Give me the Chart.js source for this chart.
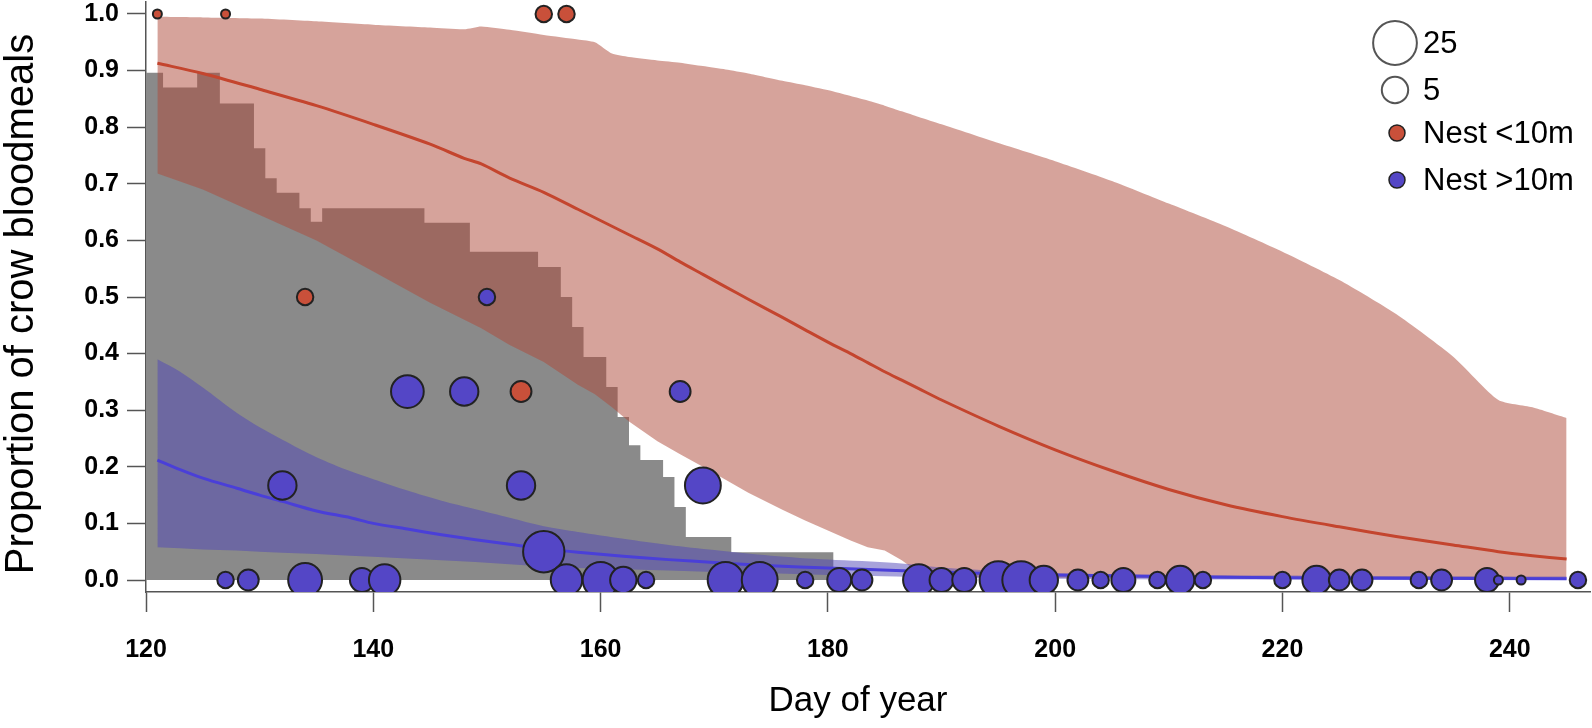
<!DOCTYPE html>
<html>
<head>
<meta charset="utf-8">
<script src="https://cdn.jsdelivr.net/npm/chart.js@4.4.1/dist/chart.umd.min.js"></script>
<style>
  html, body { margin: 0; padding: 0; background: #fff; }
  #wrap { width: 1592px; height: 728px; }
</style>
</head>
<body>
<div id="wrap"><canvas id="crowChart" width="1592" height="728"></canvas></div>
<script>
// axis ticks
var dayTicks = [120, 140, 160, 180, 200, 220, 240];
var propTicks = [0, 0.1, 0.2, 0.3, 0.4, 0.5, 0.6, 0.7, 0.8, 0.9, 1.0];

// grey stepped area (day where each step starts, height of the step)
var stepDays = [120, 121.5, 124.5, 126.5, 129.5, 130.5, 131.5, 133.5, 134.5, 135.5, 144.5, 148.5,
  154.5, 156.5, 157.5, 158.5, 160.5, 161.5, 162.5, 163.5, 165.5, 166.5, 167.5, 171.5, 180.5];
var stepValues = [0.896, 0.87, 0.896, 0.842, 0.763, 0.71, 0.684, 0.657, 0.633, 0.657, 0.631, 0.58,
  0.553, 0.5, 0.447, 0.394, 0.341, 0.288, 0.238, 0.212, 0.182, 0.129, 0.076, 0.049, 0];

// nest < 10m : fitted curve and band
var nearDays = [121, 125, 130, 135, 140, 145, 148, 149.5, 152, 155, 158, 159.5, 161, 162.5, 165, 167,
  169, 171, 173, 176, 178, 180.5, 182, 183.5, 185, 186.5, 188, 190, 195, 200, 205, 210, 215, 220,
  225, 230, 235, 239, 242, 245];
var nearUpper = [0.995, 0.994, 0.992, 0.987, 0.981, 0.976, 0.973, 0.978, 0.972, 0.963, 0.955, 0.95,
  0.93, 0.924, 0.918, 0.914, 0.908, 0.902, 0.895, 0.882, 0.874, 0.863, 0.855, 0.847, 0.838, 0.828, 0.818,
  0.805, 0.772, 0.74, 0.705, 0.665, 0.625, 0.58, 0.53, 0.47, 0.395, 0.318, 0.305, 0.286];
var nearLower = [0.718, 0.69, 0.645, 0.6, 0.545, 0.49, 0.46, 0.445, 0.415, 0.385, 0.345, 0.328,
  0.305, 0.28, 0.245, 0.222, 0.2, 0.177, 0.154, 0.124, 0.105, 0.083, 0.07, 0.058, 0.052, 0.035, 0.013,
  0.006, 0.005, 0.004, 0.004, 0.003, 0.003, 0.003, 0.003, 0.003, 0.003, 0.003, 0.003, 0.003];
var nearFit = [0.913, 0.895, 0.867, 0.838, 0.805, 0.77, 0.745, 0.735, 0.71, 0.685, 0.655, 0.64,
  0.625, 0.61, 0.585, 0.562, 0.54, 0.518, 0.496, 0.464, 0.442, 0.415, 0.4, 0.384, 0.368, 0.353, 0.338,
  0.318, 0.272, 0.23, 0.193, 0.16, 0.133, 0.112, 0.094, 0.077, 0.062, 0.05, 0.043, 0.037];

// nest > 10m : fitted curve and band
var farDays = [121, 123, 125, 128, 130, 132, 135, 138, 140, 143, 146, 149, 152, 155, 158, 162, 166,
  170, 175, 180, 186, 190, 195, 200, 210, 220, 230, 245];
var farUpper = [0.39, 0.368, 0.34, 0.295, 0.27, 0.248, 0.217, 0.192, 0.178, 0.158, 0.14, 0.125, 0.11,
  0.095, 0.085, 0.073, 0.062, 0.053, 0.043, 0.036, 0.03, 0.022, 0.016, 0.012, 0.009, 0.008, 0.007, 0.006];
var farLower = [0.058, 0.056, 0.054, 0.052, 0.05, 0.048, 0.046, 0.043, 0.041, 0.038, 0.035, 0.032,
  0.028, 0.024, 0.021, 0.019, 0.017, 0.014, 0.012, 0.009, 0.006, 0.004, 0.003, 0.002, 0.001, 0.001, 0, 0];
var farFit = [0.212, 0.195, 0.18, 0.162, 0.15, 0.139, 0.122, 0.11, 0.1, 0.09, 0.08, 0.071, 0.063,
  0.055, 0.049, 0.042, 0.036, 0.031, 0.025, 0.021, 0.017, 0.014, 0.011, 0.009, 0.006, 0.004, 0.003, 0.002];

// observed proportions and number of bloodmeals
var nearPtDays = [121, 127, 134, 153, 155, 157];
var nearPtProps = [1, 1, 0.5, 0.333, 1, 1];
var nearPtCounts = [1, 1, 2, 3, 2, 2];

var farPtDays = [127, 129, 132, 134, 139, 141, 143, 148, 150, 153, 155, 157, 160, 162, 164, 167, 169,
  171, 174, 178, 181, 183, 188, 190, 192, 195, 197, 199, 202, 204, 206, 209, 211, 213, 220, 223, 225,
  227, 232, 234, 238, 239, 241, 246];
var farPtProps = [0, 0, 0.167, 0, 0, 0, 0.333, 0.333, 0.5, 0.167, 0.05, 0, 0, 0, 0, 0.333, 0.167,
  0, 0, 0, 0, 0, 0, 0, 0, 0, 0, 0, 0, 0, 0, 0, 0, 0, 0, 0, 0, 0, 0, 0, 0, 0, 0, 0];
var farPtCounts = [2, 3, 6, 10, 4, 8, 9, 6, 2, 6, 20, 8, 12, 5, 2, 3, 12, 12, 12, 2, 4, 3, 8, 4, 4,
  14, 14, 6, 3, 2, 4, 2, 6, 2, 2, 6, 3, 3, 2, 3, 4, 1, 1, 2];

var legendCounts = [25, 5];
var legendGroups = ['Nest <10m', 'Nest >10m'];
var xTitle = 'Day of year';
var yTitle = 'Proportion of crow bloodmeals';

var FONT = "'Liberation Sans', Arial, Helvetica, sans-serif";
var RED = '#c9503a';
var BLUE = '#5446c6';

function bubbleRadius(n) {
  return 4.5 + 5.4 * Math.log(n);
}

function pts(days, vals) {
  return days.map(function (d, i) { return { x: d, y: vals[i] }; });
}

function bubbles(days, props, counts) {
  return days.map(function (d, i) { return { x: d, y: props[i], r: bubbleRadius(counts[i]) }; });
}

var bottomClip = { left: false, top: false, right: false, bottom: 0 };

// size key, colour key and the two axis titles
var legendBox = {
  id: 'legendBox',
  afterDraw: function (chart) {
    var ctx = chart.ctx;
    var area = chart.chartArea;
    var cx = area.right - 195;
    var tx = cx + 28;
    var rows = [43, 90, 133, 180];
    ctx.save();
    ctx.lineWidth = 2;
    ctx.strokeStyle = '#555';
    legendCounts.forEach(function (n, i) {
      ctx.beginPath();
      ctx.arc(cx, rows[i], bubbleRadius(n), 0, Math.PI * 2);
      ctx.fillStyle = '#fff';
      ctx.fill();
      ctx.stroke();
    });
    [RED, BLUE].forEach(function (c, i) {
      ctx.beginPath();
      ctx.arc(cx + 2, rows[i + 2], 8, 0, Math.PI * 2);
      ctx.fillStyle = c;
      ctx.fill();
      ctx.strokeStyle = '#222';
      ctx.lineWidth = 1.5;
      ctx.stroke();
    });
    ctx.fillStyle = '#000';
    ctx.font = '31px ' + FONT;
    ctx.textAlign = 'left';
    ctx.textBaseline = 'middle';
    legendCounts.forEach(function (n, i) { ctx.fillText(String(n), tx, rows[i] + 1); });
    legendGroups.forEach(function (g, i) { ctx.fillText(g, tx, rows[i + 2] + 1); });

    ctx.textAlign = 'center';
    ctx.font = '35px ' + FONT;
    ctx.fillText(xTitle, (area.left + area.right) / 2 - 10, 701);
    ctx.translate(22, (area.top + area.bottom) / 2 + 7);
    ctx.rotate(-Math.PI / 2);
    ctx.font = '40px ' + FONT;
    ctx.fillText(yTitle, 0, 0);
    ctx.restore();
  }
};

var ctx = document.getElementById('crowChart').getContext('2d');

var crowChart = new Chart(ctx, {
  type: 'line',
  data: {
    datasets: [
      {
        type: 'line', label: 'grey', data: pts(stepDays, stepValues), stepped: true,
        fill: 'origin', backgroundColor: '#8a8a8a', borderColor: 'transparent', borderWidth: 0,
        pointRadius: 0, order: 10
      },
      {
        type: 'line', label: 'near lower', data: pts(nearDays, nearLower), fill: false,
        borderColor: 'transparent', borderWidth: 0, pointRadius: 0, order: 9
      },
      {
        type: 'line', label: 'near upper', data: pts(nearDays, nearUpper), fill: '-1',
        backgroundColor: 'rgba(175, 75, 59, 0.51)', borderColor: 'transparent', borderWidth: 0,
        pointRadius: 0, tension: 0.2, order: 9
      },
      {
        type: 'line', label: 'far lower', data: pts(farDays, farLower), fill: false,
        borderColor: 'transparent', borderWidth: 0, pointRadius: 0, order: 8
      },
      {
        type: 'line', label: 'far upper', data: pts(farDays, farUpper), fill: '-1',
        backgroundColor: 'rgba(79, 69, 183, 0.5)', borderColor: 'transparent', borderWidth: 0,
        pointRadius: 0, tension: 0.3, order: 8
      },
      {
        type: 'line', label: 'near fit', data: pts(nearDays, nearFit), fill: false,
        borderColor: '#c4452e', borderWidth: 3, pointRadius: 0, tension: 0.3, order: 7
      },
      {
        type: 'line', label: 'far fit', data: pts(farDays, farFit), fill: false,
        borderColor: '#4a3fd8', borderWidth: 3, pointRadius: 0, tension: 0.3, order: 6
      },
      {
        type: 'bubble', label: 'Nest <10m', data: bubbles(nearPtDays, nearPtProps, nearPtCounts),
        backgroundColor: RED, borderColor: '#222', borderWidth: 2, clip: bottomClip, order: 5
      },
      {
        type: 'bubble', label: 'Nest >10m', data: bubbles(farPtDays, farPtProps, farPtCounts),
        backgroundColor: BLUE, borderColor: '#222', borderWidth: 2, clip: bottomClip, order: 4
      }
    ]
  },
  options: {
    responsive: false,
    animation: false,
    devicePixelRatio: 1,
    events: [],
    layout: { autoPadding: false, padding: { top: 2, right: 2, left: 0, bottom: 0 } },
    plugins: { legend: { display: false }, tooltip: { enabled: false } },
    scales: {
      x: {
        type: 'linear',
        min: 120,
        max: 247.06,
        z: 1,
        afterBuildTicks: function (s) { s.ticks = dayTicks.map(function (v) { return { value: v }; }); },
        afterFit: function (s) { s.height = 136; s.paddingLeft = 0; s.paddingRight = 0; },
        grid: { drawOnChartArea: false, drawTicks: true, tickLength: 20, tickWidth: 1.5, tickColor: '#555' },
        border: { display: true, color: '#555', width: 1.5 },
        ticks: { color: '#000', padding: 23, font: { family: FONT, size: 25, weight: 'bold' }, maxRotation: 0,
          callback: function (v) { return String(v); } },
        title: { display: false }
      },
      y: {
        type: 'linear',
        min: -0.0212,
        max: 1.0212,
        z: 1,
        afterBuildTicks: function (s) { s.ticks = propTicks.map(function (v) { return { value: v }; }); },
        afterFit: function (s) { s.width = 146; s.paddingTop = 0; s.paddingBottom = 0; },
        grid: { drawOnChartArea: false, drawTicks: true, tickLength: 19, tickWidth: 1.5, tickColor: '#555' },
        border: { display: true, color: '#555', width: 1.5 },
        ticks: { color: '#000', padding: 8, font: { family: FONT, size: 25, weight: 'bold' },
          callback: function (v) { return v.toFixed(1); } },
        title: { display: false }
      }
    }
  },
  plugins: [legendBox]
});
</script>
</body>
</html>
